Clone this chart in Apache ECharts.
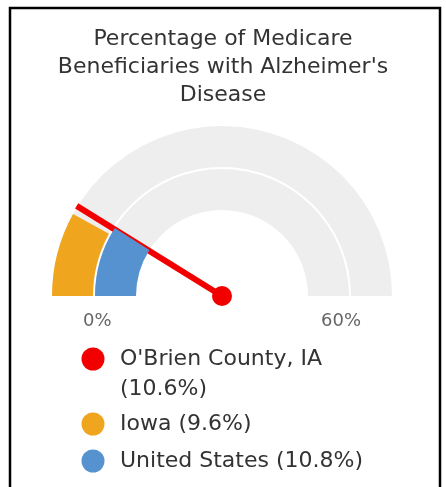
<!DOCTYPE html>
<html>
<head>
<meta charset="utf-8">
<script src="https://cdn.jsdelivr.net/npm/echarts@6/dist/echarts.min.js"></script>
<style>
  html, body { margin: 0; padding: 0; background: #fff; }
  #chart { width: 446px; height: 487px; }
</style>
</head>
<body>
<div id="chart"></div>
<script>
// ---- data ----
const categories = ["O'Brien County, IA", "Iowa", "United States"];
const values = [10.6, 9.6, 10.8];
const seriesColors = ['#f20000', '#f0a51e', '#5592cf'];
const axisMin = 0;
const axisMax = 60;
const tickLabels = ['0%', '60%'];
const titleLines = ['Percentage of Medicare', "Beneficiaries with Alzheimer's", 'Disease'];

// ---- layout constants ----
const CX = 222, CY = 296;
const FONT = 'DejaVu Sans';

function hidden() {
  return {
    pointer: { show: false }, anchor: { show: false },
    axisTick: { show: false }, splitLine: { show: false, length: 0, distance: 0 },
    axisLabel: { show: false }, title: { show: false }, detail: { show: false }
  };
}

function bandSeries(idx, radius, width) {
  return Object.assign(hidden(), {
    type: 'gauge', name: categories[idx], center: [CX, CY], radius: radius,
    startAngle: 180, endAngle: 0, min: axisMin, max: axisMax, splitNumber: 1,
    axisLine: { show: true, roundCap: false, lineStyle: { width: width, color: [[1, '#eeeeee']] } },
    progress: { show: true, width: width, roundCap: false, itemStyle: { color: seriesColors[idx] } },
    itemStyle: { color: seriesColors[idx] },
    data: [{ value: values[idx] }],
    silent: true, animation: false
  });
}

const pointerSeries = Object.assign(hidden(), {
  type: 'gauge', name: categories[0], center: [CX, CY], radius: 171,
  startAngle: 180, endAngle: 0, min: axisMin, max: axisMax, splitNumber: 1,
  axisLine: { show: false, lineStyle: { width: 0 } },
  progress: { show: false },
  itemStyle: { color: seriesColors[0] },
  pointer: { show: true, icon: 'rect', length: '100%', width: 6, offsetCenter: [0, 0], itemStyle: { color: seriesColors[0] } },
  anchor: { show: true, size: 20, showAbove: true, itemStyle: { color: seriesColors[0] } },
  data: [{ value: values[0] }],
  silent: true, animation: false
});

const labelSeries = Object.assign(hidden(), {
  type: 'gauge', name: 'axis-labels', center: [CX, 321], radius: 139,
  startAngle: 180, endAngle: 0, min: axisMin, max: axisMax, splitNumber: 1,
  axisLine: { show: false, lineStyle: { width: 0 } },
  progress: { show: false },
  axisLabel: {
    show: true, distance: 0, color: '#666666', fontSize: 18, fontFamily: FONT,
    align: 'center', verticalAlign: 'middle',
    formatter: function (v) { return v === axisMin ? tickLabels[0] : tickLabels[1]; }
  },
  data: [{ value: axisMin }],
  silent: true, animation: false
});

function legendFor(idx, top, twoLine) {
  return {
    show: true, orient: 'vertical', left: 76.5, top: top,
    selectedMode: false, icon: 'circle', itemWidth: 44, itemHeight: 23,
    data: [{ name: categories[idx], itemStyle: { color: seriesColors[idx] } }],
    formatter: function (name) {
      const i = categories.indexOf(name);
      // leading empty line keeps the first text line level with the marker
      return twoLine ? '\n' + name + '\n(' + values[i] + '%)' : name + ' (' + values[i] + '%)';
    },
    textStyle: { fontFamily: FONT, fontSize: 22, color: '#333333', lineHeight: 30 }
  };
}

const chart = echarts.init(document.getElementById('chart'), null, { renderer: 'canvas' });
chart.setOption({
  backgroundColor: '#ffffff',
  animation: false,
  title: {
    text: titleLines.join('\n'), left: 'center', top: 20,
    textStyle: { fontFamily: FONT, fontSize: 22, fontWeight: 'normal', color: '#333333', lineHeight: 28 }
  },
  legend: [
    legendFor(0, 309, true),
    legendFor(1, 404, false),
    legendFor(2, 441, false)
  ],
  series: [
    bandSeries(1, 170, 41),
    bandSeries(2, 127, 41),
    pointerSeries,
    labelSeries
  ],
  graphic: [{
    type: 'rect', silent: true, z: 100,
    shape: { x: 10, y: 8, width: 430, height: 520 },
    style: { fill: 'none', stroke: '#000000', lineWidth: 2.5 }
  }]
});
</script>
</body>
</html>
